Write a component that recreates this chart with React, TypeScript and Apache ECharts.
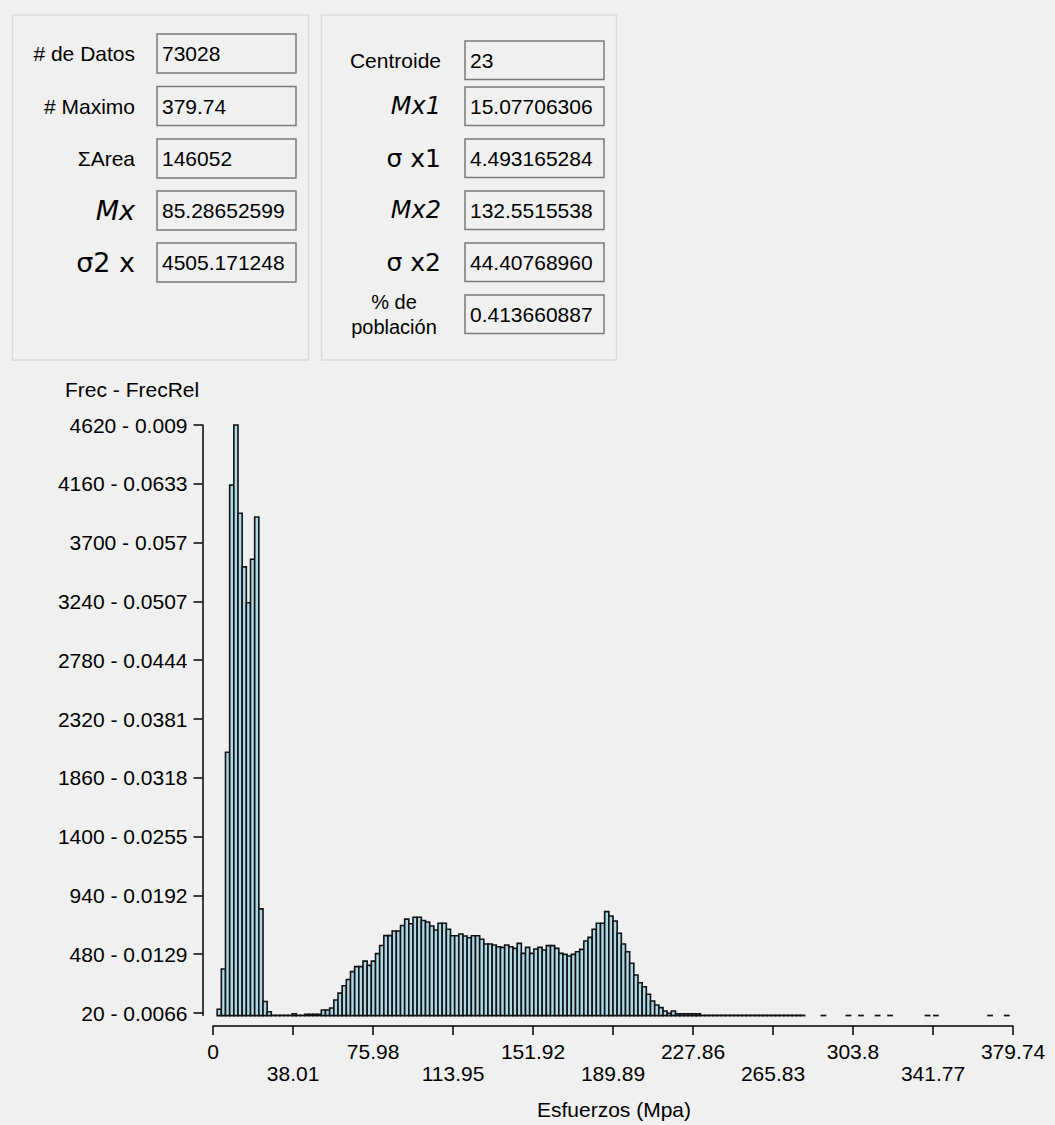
import React, { useEffect, useRef } from "react";
import * as echarts from "echarts";

// ---------- DATA ----------
const xMax = 379.74;
const binCount = 192;
const xTickLabels = ["0", "38.01", "75.98", "113.95", "151.92", "189.89", "227.86", "265.83", "303.8", "341.77", "379.74"];
const yTickValues = [20, 480, 940, 1400, 1860, 2320, 2780, 3240, 3700, 4160, 4620];
const yRelLabels = ["0.0066", "0.0129", "0.0192", "0.0255", "0.0318", "0.0381", "0.0444", "0.0507", "0.057", "0.0633", "0.009"];
const yMax = 4620;

// frequency per bin (192 bins)
const counts = [
  0, 50, 365, 2060, 4150, 4620, 3930, 3510, 3230, 3570, 3900, 835, 110, 30,
  2, 2, 2, 2, 2, 15, 2, 2, 10, 10, 10, 10,
  44, 44, 60, 122, 176, 234, 282, 344, 383, 383, 426, 393, 426, 485, 548, 626, 626, 662, 662, 705, 755, 719, 769, 769, 744, 732,
  701, 670, 722, 722, 675, 625, 625, 638, 623, 609, 625, 625, 597, 560, 560, 552, 539,
  534, 552, 539, 526, 565, 487, 534, 487, 521, 534, 513, 547, 547, 526, 487, 479, 466, 479, 500, 518,
  583, 612, 675, 722, 722, 813, 779, 740, 644, 560, 500, 409, 318, 257, 226, 167, 114, 83, 62, 36, 18, 36,
  15, 15, 15, 15, 15, 15,
  2, 2, 2, 2, 2, 2, 2, 2, 2, 2, 2, 2, 2, 2, 2, 2, 2, 2, 2, 2, 2, 2, 2, 2, 2,
  0, 0, 0, 0, 1, 0, 0, 0, 0, 0,
  1, 0, 0, 1, 0, 0, 0, 1, 0, 0,
  1, 0, 0, 0, 0, 0, 0, 0, 0, 1,
  0, 1, 0, 0, 0, 0, 0, 0, 0, 0,
  0, 0, 0, 0, 1, 0, 0, 0, 1, 0,
];

const leftLabels = ["# de Datos", "# Maximo", "ΣArea", "Mx", "σ2 x"];
const leftValues = ["73028", "379.74", "146052", "85.28652599", "4505.171248"];
const rightLabels = ["Centroide", "Mx1", "σ x1", "Mx2", "σ x2", "% de\npoblación"];
const rightValues = ["23", "15.07706306", "4.493165284", "132.5515538", "44.40768960", "0.413660887"];

const yAxisTitle = "Frec - FrecRel";
const xAxisTitle = "Esfuerzos (Mpa)";

// ---------- STYLE / LAYOUT ----------
const FONT = '"Liberation Sans", Arial, sans-serif';
const GREEK = '"DejaVu Sans", "Liberation Sans", sans-serif';
const W = 1055;
const H = 1125;

const leftLabelStyle = [
  { fontSize: 21, fontFamily: FONT, fontStyle: "normal" },
  { fontSize: 21, fontFamily: FONT, fontStyle: "normal" },
  { fontSize: 21, fontFamily: FONT, fontStyle: "normal" },
  { fontSize: 27, fontFamily: GREEK, fontStyle: "italic" },
  { fontSize: 27, fontFamily: GREEK, fontStyle: "normal" },
];
const rightLabelStyle = [
  { fontSize: 21, fontFamily: FONT, fontStyle: "normal" },
  { fontSize: 24, fontFamily: GREEK, fontStyle: "italic" },
  { fontSize: 25, fontFamily: GREEK, fontStyle: "normal" },
  { fontSize: 24, fontFamily: GREEK, fontStyle: "italic" },
  { fontSize: 25, fontFamily: GREEK, fontStyle: "normal" },
  { fontSize: 20, fontFamily: FONT, fontStyle: "normal" },
];
const leftBoxTops = [34, 86.5, 139, 191, 243];
const rightBoxTops = [41, 87, 139, 191, 243, 295];

function buildGraphic() {
  const els: any[] = [];
  // group boxes
  els.push({ type: "rect", shape: { x: 12.5, y: 15, width: 296, height: 345 }, style: { fill: "none", stroke: "#d9d9d9", lineWidth: 1.5 } });
  els.push({ type: "rect", shape: { x: 321.5, y: 15, width: 295, height: 345 }, style: { fill: "none", stroke: "#d9d9d9", lineWidth: 1.5 } });

  const addRow = (label: string, value: string, ls: any, boxX: number, top: number, h: number, labelRight: number, center?: number) => {
    els.push({ type: "rect", shape: { x: boxX, y: top, width: 139, height: h }, style: { fill: "#f0f0f0", stroke: "#7a7a7a", lineWidth: 1.5 } });
    els.push({
      type: "text", x: boxX + 5, y: top + h / 2,
      style: { text: value, fill: "#000", fontSize: 21, fontFamily: FONT, textAlign: "left", textVerticalAlign: "middle", width: 131, overflow: "truncate", ellipsis: "" },
    });
    const multi = label.indexOf("\n") >= 0;
    els.push({
      type: "text", x: multi ? (center as number) : labelRight, y: top + h / 2,
      style: {
        text: label, fill: "#000", fontSize: ls.fontSize, fontFamily: ls.fontFamily, fontStyle: ls.fontStyle,
        textAlign: multi ? "center" : "right", textVerticalAlign: "middle", lineHeight: 25,
      },
    });
  };
  leftLabels.forEach((l, i) => addRow(l, leftValues[i], leftLabelStyle[i], 157, leftBoxTops[i], 39, 135));
  rightLabels.forEach((l, i) => addRow(l, rightValues[i], rightLabelStyle[i], 465, rightBoxTops[i], 38.5, 441, 394));

  // axis titles
  els.push({ type: "text", x: 65, y: 389, style: { text: yAxisTitle, fill: "#000", fontSize: 21, fontFamily: FONT, textAlign: "left", textVerticalAlign: "middle" } });
  els.push({ type: "text", x: 614, y: 1109, style: { text: xAxisTitle, fill: "#000", fontSize: 21, fontFamily: FONT, textAlign: "center", textVerticalAlign: "middle" } });
  return els;
}

export default function App() {
  const ref = useRef<HTMLDivElement>(null);
  useEffect(() => {
    if (!ref.current) return;
    const chart = echarts.init(ref.current, undefined, { renderer: "svg", width: W, height: H });
    const binW = xMax / binCount;
    const data: number[][] = [];
    counts.forEach((v, i) => {
      if (v > 0) data.push([i * binW, v, (i + 1) * binW]);
    });
    const xTickValues = xTickLabels.map((s) => parseFloat(s));

    chart.setOption({
      animation: false,
      backgroundColor: "#f0f0f0",
      grid: { left: 213, top: 425, width: 800, height: 590.6 },
      xAxis: {
        type: "value", min: 0, max: xMax, offset: 10.5,
        axisLine: { show: true, onZero: false, lineStyle: { color: "#000", width: 1.5 } },
        axisTick: { show: true, length: 9, customValues: xTickValues, lineStyle: { color: "#000", width: 1.5 } },
        axisLabel: {
          customValues: xTickValues, margin: 14, fontSize: 21, fontFamily: FONT, color: "#000", lineHeight: 22,
          formatter: (v: number) => {
            const i = xTickValues.findIndex((t) => Math.abs(t - v) < 1e-6);
            if (i < 0) return "";
            return i % 2 === 1 ? "\n" + xTickLabels[i] : xTickLabels[i];
          },
        },
        splitLine: { show: false },
      },
      yAxis: {
        type: "value", min: 0, max: yMax, offset: 10.5,
        axisLine: { show: true, onZero: false, lineStyle: { color: "#000", width: 1.5 } },
        axisTick: { show: true, length: 9, customValues: yTickValues, lineStyle: { color: "#000", width: 1.5 } },
        axisLabel: {
          customValues: yTickValues, margin: 15, fontSize: 21, fontFamily: FONT, color: "#000",
          formatter: (v: number) => {
            const i = yTickValues.findIndex((t) => Math.abs(t - v) < 1e-6);
            return i < 0 ? "" : `${yTickValues[i]} - ${yRelLabels[i]}`;
          },
        },
        splitLine: { show: false },
      },
      series: [
        {
          type: "custom",
          clip: false,
          encode: { x: [0, 2], y: 1 },
          data,
          renderItem: (params: any, api: any) => {
            const p0 = api.coord([api.value(0), api.value(1)]);
            const p1 = api.coord([api.value(2), 0]);
            return {
              type: "rect",
              shape: { x: p0[0], y: p0[1], width: p1[0] - p0[0], height: p1[1] - p0[1] },
              style: { fill: "#ADD8E6", stroke: "#111", lineWidth: 1.6 },
            };
          },
        },
      ],
      graphic: buildGraphic(),
    });
    return () => chart.dispose();
  }, []);
  return (
    <div style={{ position: "fixed", left: 0, top: 0, width: W, height: H, background: "#f0f0f0" }}>
      <div ref={ref} style={{ width: W, height: H }} />
    </div>
  );
}
